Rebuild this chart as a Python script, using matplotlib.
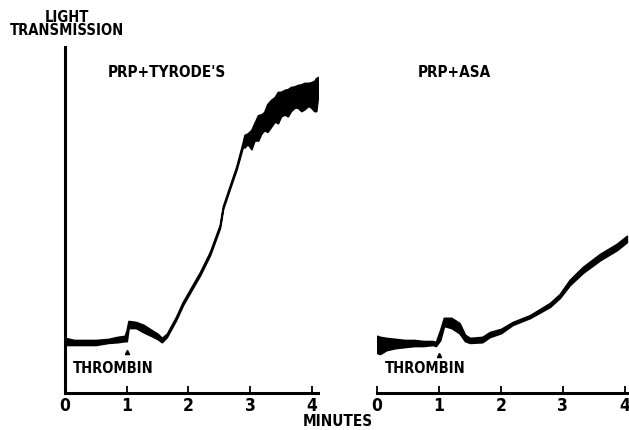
import matplotlib.pyplot as plt

plt.rcParams['font.family'] = ['DejaVu Sans']
plt.rcParams['font.stretch'] = 'condensed'
plt.rcParams['font.weight'] = 'bold'

# light transmission (arbitrary units, 0-100) vs minutes; trace drawn as envelope (top / bottom of the pen band)
t_tyrode = [0, .15, .3, .5, .7, .85, .97, 1.0, 1.03, 1.15, 1.27, 1.4, 1.5, 1.57, 1.65, 1.8, 1.91,
            2.19, 2.35, 2.51, 2.56, 2.67, 2.78, 2.88, 2.91, 2.96, 3.02, 3.07, 3.13, 3.18, 3.23, 3.28, 3.34,
            3.40, 3.45, 3.50, 3.56, 3.61, 3.66, 3.72, 3.77, 3.83, 3.88, 3.94, 3.99, 4.04, 4.07, 4.10]
hi_tyrode = [15.9, 15.3, 15.3, 15.3, 15.6, 16.2, 16.5, 18.2, 20.8, 20.5, 19.7, 18.2, 17.1, 15.9, 17.1, 22.0, 26.3,
             35.0, 40.8, 48.6, 54.0, 59.8, 65.6, 72.3, 74.6, 75.0, 76.0, 78.0, 80.3, 80.5, 81.2, 83.5, 84.7,
             85.5, 87.0, 87.0, 87.6, 87.8, 88.4, 88.6, 89.0, 89.2, 89.6, 89.6, 89.8, 90.2, 91.0, 91.3]
lo_tyrode = [13.9, 13.9, 13.9, 13.9, 14.5, 14.7, 15.0, 15.0, 18.8, 18.8, 17.6, 16.5, 15.6, 14.7, 16.2, 21.1, 25.4,
             34.1, 39.9, 47.7, 53.2, 59.0, 64.7, 71.1, 71.0, 72.0, 70.5, 73.0, 73.0, 75.0, 76.0, 75.5, 77.0,
             78.5, 78.0, 80.0, 80.5, 80.0, 81.5, 82.5, 82.5, 81.5, 82.0, 83.0, 82.5, 81.5, 81.5, 86.0]

t_asa = [0, .05, .15, .3, .45, .6, .75, .9, .95, 1.02, 1.08, 1.2, 1.33, 1.42, 1.5, 1.7, 1.82,
         2.0, 2.19, 2.47, 2.79, 2.95, 3.11, 3.32, 3.6, 3.87, 4.03]
hi_asa = [16.5, 16.2, 15.9, 15.6, 15.3, 15.3, 15.0, 15.0, 14.7, 18.2, 21.7, 21.7, 20.2, 16.8, 15.9, 16.2, 17.6,
          18.5, 20.5, 22.5, 26.0, 28.6, 32.7, 36.4, 40.2, 43.1, 45.4]
lo_asa = [11.6, 11.3, 12.4, 13.0, 13.3, 13.6, 13.6, 13.9, 13.6, 15.3, 19.4, 18.8, 17.3, 15.0, 14.5, 14.7, 16.2,
          17.3, 19.7, 21.7, 24.9, 27.5, 31.2, 34.7, 38.4, 41.3, 43.6]

ticks = [0, 1, 2, 3, 4]
thrombin_t = 1.0

fig = plt.figure(figsize=(6.29, 4.30), dpi=100)
ax1 = fig.add_axes([65/629, 37/430, 253/629, 346/430])
ax2 = fig.add_axes([377/629, 37/430, 251/629, 346/430])

panels = [(ax1, t_tyrode, hi_tyrode, lo_tyrode, 4.1, "PRP+TYRODE'S", 1.65, 11.8),
          (ax2, t_asa, hi_asa, lo_asa, 4.05, 'PRP+ASA', 1.25, 11.0)]

for ax, t, hi, lo, xmax, title, title_x, arrow_y in panels:
    ax.fill_between(t, lo, hi, facecolor='black', edgecolor='black', linewidth=1.3)
    ax.plot([thrombin_t], [arrow_y], marker='^', color='black', markersize=3)
    ax.text(0.13, 7, 'THROMBIN', fontsize=10.5, va='center')
    ax.text(title_x, 92.5, title, fontsize=11, ha='center', va='center')
    ax.set_xlim(0, xmax)
    ax.set_ylim(0, 100)
    ax.set_xticks(ticks)
    ax.set_xticklabels([str(v) for v in ticks], fontsize=12.5)
    ax.tick_params(axis='x', direction='in', length=5, width=1.3, pad=3)
    ax.set_yticks([])
    for s in ['top', 'right']:
        ax.spines[s].set_visible(False)
    ax.spines['bottom'].set_linewidth(2.2)
    ax.spines['left'].set_linewidth(2.2)

ax2.spines['left'].set_visible(False)

fig.text(67/629, 1 - 24/430, 'LIGHT\nTRANSMISSION', fontsize=10.5,
         ha='center', va='center', linespacing=0.85)
fig.text(338/629, 1 - 421/430, 'MINUTES', fontsize=11, ha='center', va='center')

plt.savefig('out.png', dpi=100)
